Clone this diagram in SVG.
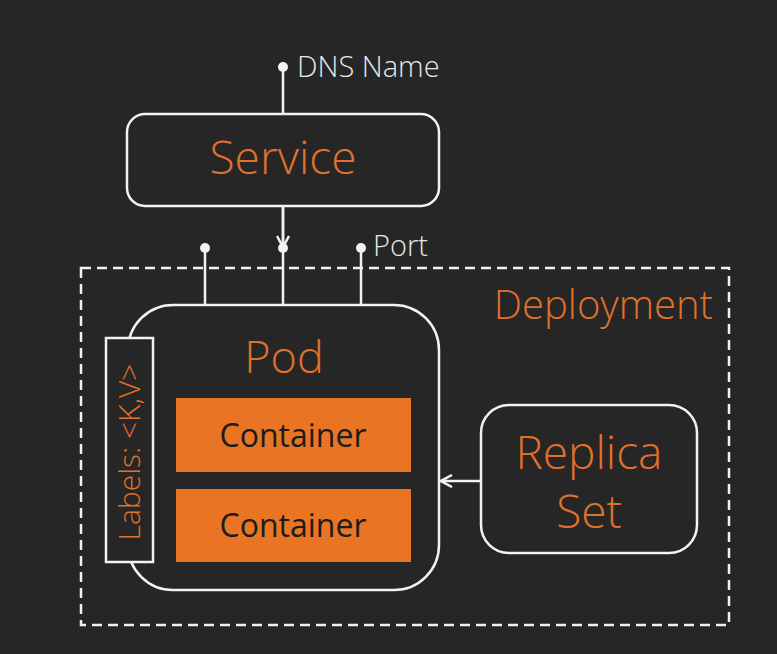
<svg xmlns="http://www.w3.org/2000/svg" width="777" height="654" viewBox="0 0 777 654">
<style>
.box{fill:#262626;stroke:#f2f2f2;stroke-width:2.5}
.ln{stroke:#f2f2f2;stroke-width:2.5;fill:none}
.dot{fill:#f2f2f2}
.or{fill:#e0712a;font-family:"Open Sans","Liberation Sans",sans-serif;font-weight:300}
.wt{fill:#e6e6e6;font-family:"Open Sans","Liberation Sans",sans-serif;font-weight:300}
.ct{fill:#e87424}
.ctt{fill:#1c1c1c;font-family:"Open Sans","Liberation Sans",sans-serif;font-size:32px;text-anchor:middle}
</style>
<defs>
<marker id="arr" markerWidth="14" markerHeight="14" refX="13" refY="7" orient="auto" markerUnits="userSpaceOnUse">
<path d="M2,1 L13,7 L2,13" fill="none" stroke="#f2f2f2" stroke-width="2.5"/>
</marker>
</defs>
<rect width="777" height="654" fill="#262626"/>
<g id="deployment">
<rect x="81" y="268" width="648" height="357" fill="none" stroke="#f2f2f2" stroke-width="2.5" stroke-dasharray="10 6"/>
<text class="or" x="713" y="319" font-size="40" text-anchor="end">Deployment</text>
</g>
<g id="service">
<rect class="box" x="127" y="114" width="312" height="92" rx="18"/>
<text class="or" x="283" y="174" font-size="46" text-anchor="middle">Service</text>
</g>
<g id="pod">
<rect class="box" x="128" y="305" width="311" height="285" rx="45"/>
<text class="or" x="284" y="373" font-size="45" text-anchor="middle">Pod</text>
</g>
<g id="labels">
<rect class="box" x="106" y="338" width="47" height="224"/>
<text class="or" transform="translate(140,452) rotate(-90)" font-size="30" text-anchor="middle">Labels: &lt;K,V&gt;</text>
</g>
<g id="container1">
<rect class="ct" x="176" y="398" width="235" height="74"/>
<text class="ctt" x="293" y="447">Container</text>
</g>
<g id="container2">
<rect class="ct" x="176" y="489" width="235" height="73"/>
<text class="ctt" x="293" y="537">Container</text>
</g>
<g id="replicaset">
<rect class="box" x="481" y="405" width="216" height="148" rx="28"/>
<text class="or" x="589" y="469" font-size="46" text-anchor="middle">Replica</text>
<text class="or" x="589" y="528" font-size="46" text-anchor="middle">Set</text>
</g>
<g id="connectors">
<line class="ln" x1="283" y1="67" x2="283" y2="114"/>
<line class="ln" x1="283" y1="206" x2="283" y2="305"/>
<line class="ln" x1="283" y1="206" x2="283" y2="247" marker-end="url(#arr)"/>
<line class="ln" x1="205" y1="248" x2="205" y2="305"/>
<line class="ln" x1="361" y1="248" x2="361" y2="305"/>
<line class="ln" x1="481" y1="481" x2="441" y2="481" marker-end="url(#arr)"/>
<circle class="dot" cx="283" cy="67" r="5"/>
<circle class="dot" cx="283" cy="248" r="5"/>
<circle class="dot" cx="205" cy="248" r="5"/>
<circle class="dot" cx="361" cy="248" r="5"/>
<text class="wt" x="297" y="77" font-size="29">DNS Name</text>
<text class="wt" x="373" y="256" font-size="29">Port</text>
</g>
</svg>
